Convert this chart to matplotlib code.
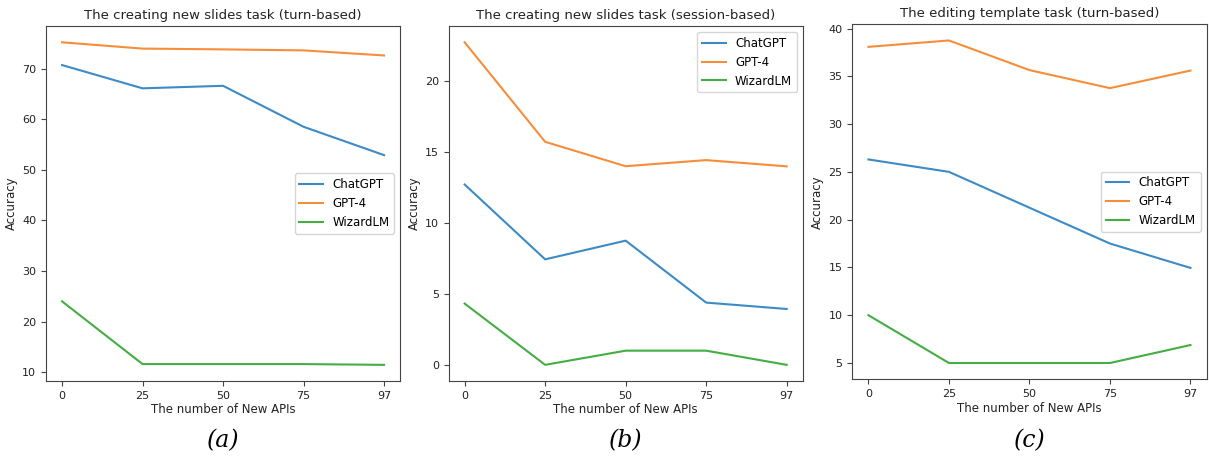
import numpy as np
import matplotlib
matplotlib.use("Agg")
import matplotlib.pyplot as plt

# number of new APIs (shown as evenly spaced categories)
api_labels = ["0", "25", "50", "75", "97"]
models = ["ChatGPT", "GPT-4", "WizardLM"]
colors = ["#3c8ac6", "#f68d3a", "#44ad44"]

# (a) creating new slides, turn-based
turn_chatgpt = [70.7, 66.1, 66.6, 58.5, 52.9]
turn_gpt4 = [75.2, 73.95, 73.8, 73.6, 72.6]
turn_wizard = [24.0, 11.6, 11.6, 11.6, 11.45]

# (b) creating new slides, session-based
sess_chatgpt = [12.72, 7.44, 8.76, 4.39, 3.94]
sess_gpt4 = [22.75, 15.73, 14.01, 14.44, 14.0]
sess_wizard = [4.32, 0.0, 1.0, 1.0, 0.0]

# (c) editing template, turn-based
edit_chatgpt = [26.3, 25.0, 21.25, 17.5, 14.95]
edit_gpt4 = [38.08, 38.75, 35.65, 33.76, 35.6]
edit_wizard = [10.0, 5.0, 5.0, 5.0, 6.88]

titles = ["The creating new slides task (turn-based)",
          "The creating new slides task (session-based)",
          "The editing template task (turn-based)"]
panel_tags = ["(a)", "(b)", "(c)"]
legend_locs = ["center right", "upper right", "center right"]

panels = [(turn_chatgpt, turn_gpt4, turn_wizard),
          (sess_chatgpt, sess_gpt4, sess_wizard),
          (edit_chatgpt, edit_gpt4, edit_wizard)]

fig = plt.figure(figsize=(12.09, 4.59), dpi=100)
lefts = [0.038, 0.371, 0.705]
bottoms = [0.170, 0.170, 0.174]
xs = np.arange(len(api_labels))

for k in range(3):
    ax = fig.add_axes([lefts[k], bottoms[k], 0.293, 0.773])
    for name, vals, c in zip(models, panels[k], colors):
        ax.plot(xs, vals, label=name, linewidth=1.5, color=c)
    ax.set_xticks(xs)
    ax.set_xticklabels(api_labels)
    ax.tick_params(labelsize=8, color="#444444", labelcolor="#222222")
    for sp in ax.spines.values():
        sp.set_color("#444444")
    ax.set_title(titles[k], fontsize=9.5, pad=5, color="#222222")
    ax.set_xlabel("The number of New APIs", fontsize=8.5, labelpad=2, color="#222222")
    ax.set_ylabel("Accuracy", fontsize=8.5, labelpad=3, color="#222222")
    ax.legend(loc=legend_locs[k], fontsize=8.5)
    fig.text(lefts[k] + 0.293 / 2, 0.04, panel_tags[k], ha="center", va="center",
             fontsize=17, style="italic", family="DejaVu Serif")

plt.savefig("out.png", dpi=100)
